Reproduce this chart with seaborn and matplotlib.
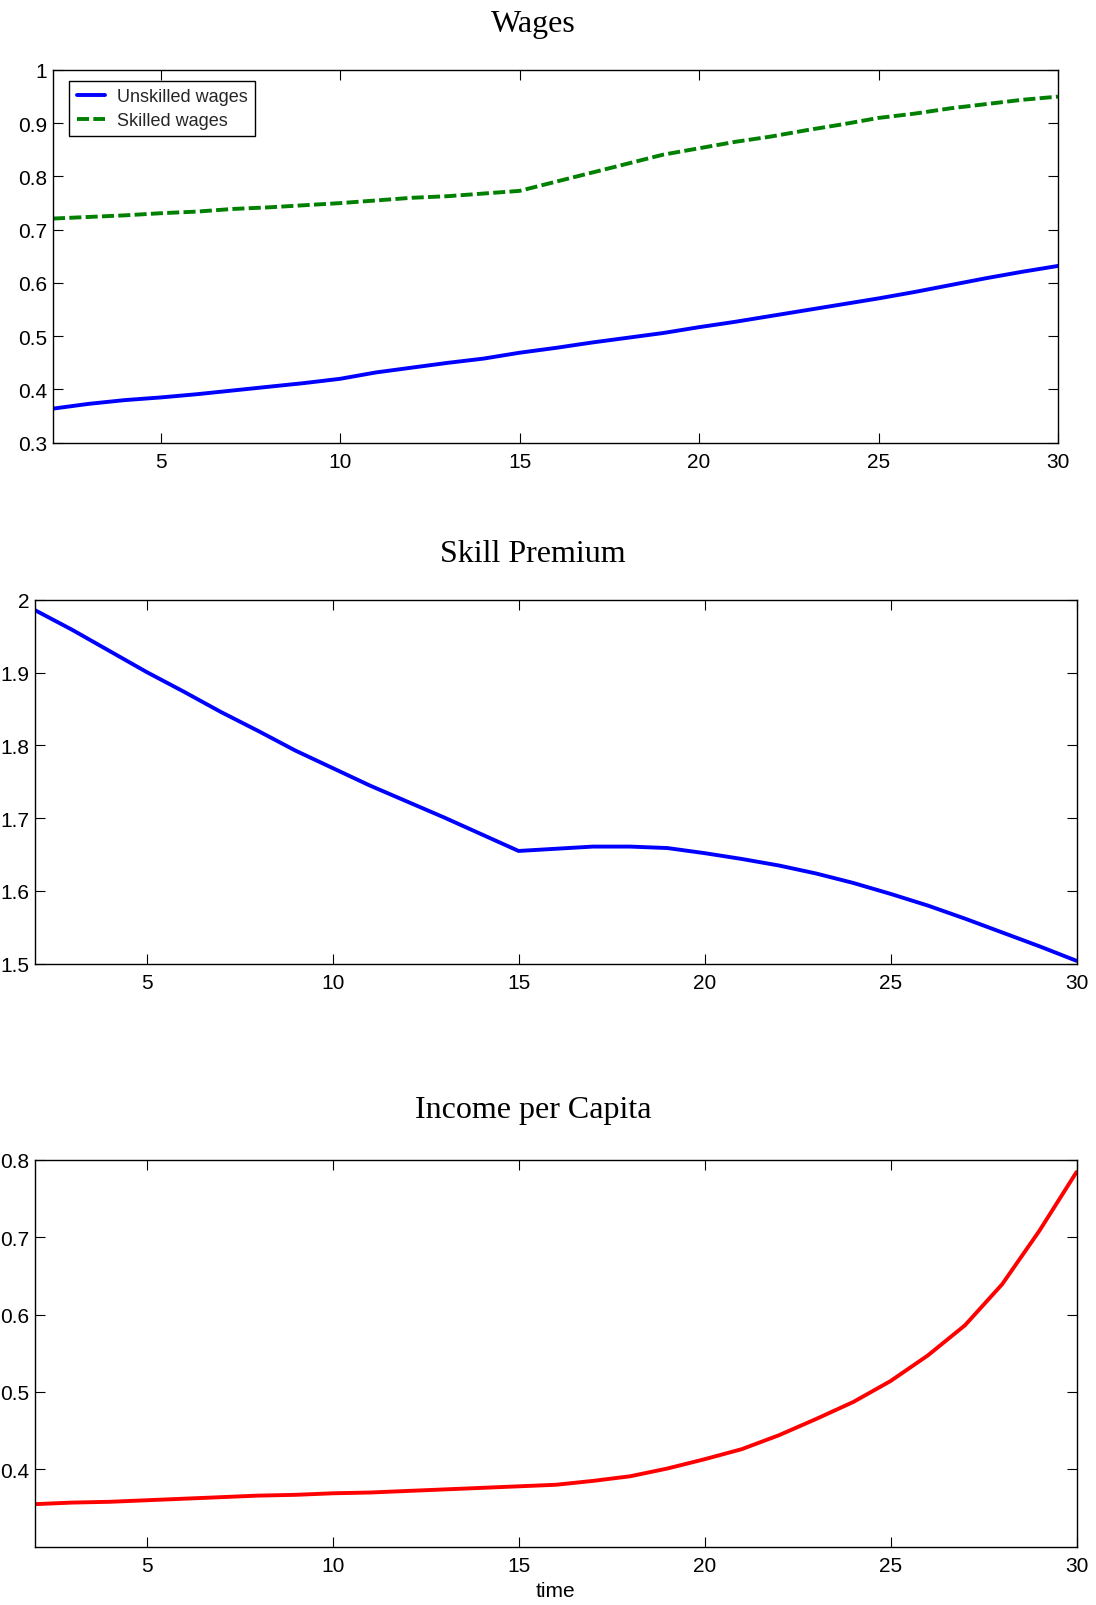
import matplotlib
matplotlib.use("Agg")
import matplotlib.pyplot as plt
import seaborn as sns
import pandas as pd
from matplotlib.ticker import FixedLocator, FixedFormatter

# ---- data -------------------------------------------------------------
time = list(range(2, 31))

unskilled_wages = [0.364, 0.373, 0.380, 0.385, 0.391, 0.398, 0.405, 0.412, 0.420,
                   0.432, 0.441, 0.450, 0.458, 0.469, 0.478, 0.488, 0.497, 0.506,
                   0.517, 0.527, 0.538, 0.549, 0.560, 0.571, 0.583, 0.596, 0.609,
                   0.621, 0.632]
skilled_wages = [0.721, 0.724, 0.727, 0.731, 0.734, 0.739, 0.742, 0.746, 0.750,
                 0.755, 0.760, 0.763, 0.768, 0.773, 0.790, 0.807, 0.824, 0.841,
                 0.853, 0.865, 0.875, 0.887, 0.898, 0.910, 0.918, 0.928, 0.936,
                 0.944, 0.950]
skill_premium = [1.986, 1.959, 1.930, 1.901, 1.874, 1.846, 1.820, 1.793, 1.769,
                 1.745, 1.723, 1.701, 1.678, 1.655, 1.658, 1.661, 1.661, 1.659,
                 1.652, 1.644, 1.635, 1.624, 1.611, 1.596, 1.580, 1.562, 1.543,
                 1.524, 1.504]
income_per_capita = [0.355, 0.357, 0.358, 0.360, 0.362, 0.364, 0.366, 0.367, 0.369,
                     0.370, 0.372, 0.374, 0.376, 0.378, 0.380, 0.385, 0.391, 0.401,
                     0.413, 0.426, 0.444, 0.465, 0.487, 0.514, 0.547, 0.586, 0.639,
                     0.708, 0.784]

titles = ["Wages", "Skill Premium", "Income per Capita"]
series_labels = ["Unskilled wages", "Skilled wages"]
x_ticks = [5, 10, 15, 20, 25, 30]
wage_ticks = [0.3, 0.4, 0.5, 0.6, 0.7, 0.8, 0.9, 1.0]
wage_tick_labels = ["0.3", "0.4", "0.5", "0.6", "0.7", "0.8", "0.9", "1"]
premium_ticks = [1.5, 1.6, 1.7, 1.8, 1.9, 2.0]
premium_tick_labels = ["1.5", "1.6", "1.7", "1.8", "1.9", "2"]
income_ticks = [0.4, 0.5, 0.6, 0.7, 0.8]
income_tick_labels = ["0.4", "0.5", "0.6", "0.7", "0.8"]

df = pd.DataFrame({
    "time": time,
    "unskilled": unskilled_wages,
    "skilled": skilled_wages,
    "premium": skill_premium,
    "income": income_per_capita,
})

# ---- style ------------------------------------------------------------
sns.set_theme(style="white")
plt.rcParams["font.family"] = ["Liberation Sans", "DejaVu Sans"]
plt.rcParams["axes.edgecolor"] = "black"
plt.rcParams["axes.linewidth"] = 1.0

W, H = 1096, 1606
fig = plt.figure(figsize=(W / 100, H / 100), dpi=100)
fig.patch.set_facecolor("white")


def px_axes(left, top, right, bottom):
    return fig.add_axes([left / W, 1 - bottom / H, (right - left) / W, (bottom - top) / H])


ax1 = px_axes(53, 71, 1058, 443.7)
ax2 = px_axes(35, 601, 1076.5, 964.7)
ax3 = px_axes(35, 1160.7, 1076.5, 1547.7)

LW = 2.8
sns.lineplot(data=df, x="time", y="unskilled", ax=ax1, color=(0, 0, 1),
             linewidth=LW, label=series_labels[0])
sns.lineplot(data=df, x="time", y="skilled", ax=ax1, color=(0, 0.5, 0),
             linewidth=LW, linestyle=(0, (3.1, 1.1)), label=series_labels[1])
sns.lineplot(data=df, x="time", y="premium", ax=ax2, color=(0, 0, 1), linewidth=LW)
sns.lineplot(data=df, x="time", y="income", ax=ax3, color=(1, 0, 0), linewidth=LW)


def style_axes(ax, ylim, yticks, ylabels):
    ax.set_xlim(2, 30)
    ax.set_ylim(*ylim)
    ax.xaxis.set_major_locator(FixedLocator(x_ticks))
    ax.xaxis.set_major_formatter(FixedFormatter([str(t) for t in x_ticks]))
    ax.yaxis.set_major_locator(FixedLocator(yticks))
    ax.yaxis.set_major_formatter(FixedFormatter(ylabels))
    ax.tick_params(axis="both", which="major", direction="in", length=7.2,
                   width=0.8, color="black", labelsize=15, labelcolor="black",
                   top=True, right=True, bottom=True, left=True)
    ax.tick_params(axis="x", pad=7)
    ax.tick_params(axis="y", pad=4)
    ax.set_xlabel("")
    ax.set_ylabel("")
    for sp in ax.spines.values():
        sp.set_visible(True)
        sp.set_color("black")
        sp.set_linewidth(1.0)
    ax.set_facecolor("white")
    ax.grid(False)


style_axes(ax1, (0.3, 1.0), wage_ticks, wage_tick_labels)
style_axes(ax2, (1.5, 2.0), premium_ticks, premium_tick_labels)
style_axes(ax3, (0.3, 0.8), income_ticks, income_tick_labels)

leg = ax1.legend(loc="upper left", bbox_to_anchor=(0.0163, 0.970), borderaxespad=0,
                 frameon=True, fancybox=False, framealpha=1, edgecolor="black",
                 fontsize=13, handlelength=1.6, handletextpad=0.65,
                 labelspacing=0.37, borderpad=0.4)
leg.get_frame().set_linewidth(1.0)

# panel titles
title_x = 533 / W
for txt, base in zip(titles, [31.7, 561.7, 1118.3]):
    fig.text(title_x, 1 - base / H, txt, ha="center", va="baseline",
             fontsize=23, family=["Liberation Serif", "DejaVu Serif"], color="black")

ax3.set_xlabel("time", fontsize=15, color="black")
ax3.xaxis.set_label_coords(0.5, -0.128)
ax3.xaxis.label.set_va("baseline")

fig.savefig("out.png", dpi=100, facecolor="white")
